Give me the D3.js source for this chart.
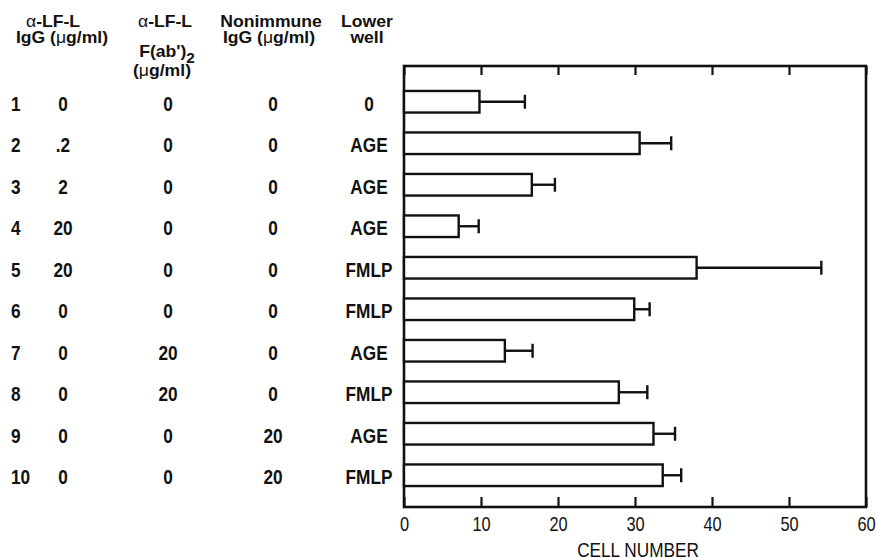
<!DOCTYPE html>
<html>
<head>
<meta charset="utf-8">
<script src="https://cdn.jsdelivr.net/npm/d3@7"></script>
<style>
  body { margin: 0; background: #fff; }
  svg text { fill: #111; }
  .hdr { font-family: "Liberation Sans", Arial, sans-serif; font-weight: bold; font-size: 16px; }
  .greek { font-weight: normal; }
  .row { font-family: "Liberation Sans", Arial, sans-serif; font-weight: bold; font-size: 21px; }
  .tick text { font-family: "Liberation Sans", Arial, sans-serif; font-size: 20px; fill: #111; }
  .xtitle { font-family: "Liberation Sans", Arial, sans-serif; font-size: 21px; }
</style>
</head>
<body>
<div id="chart"></div>
<script>
// table columns, one entry per row
var rowIds    = ["1", "2", "3", "4", "5", "6", "7", "8", "9", "10"];
var igg       = ["0", ".2", "2", "20", "20", "0", "0", "0", "0", "0"];
var fab       = ["0", "0", "0", "0", "0", "0", "20", "20", "0", "0"];
var nonimmune = ["0", "0", "0", "0", "0", "0", "0", "0", "20", "20"];
var lowerWell = ["0", "AGE", "AGE", "AGE", "FMLP", "FMLP", "AGE", "FMLP", "AGE", "FMLP"];

// bar values (cell number) and upper error ends
var cellNumber = [9.8, 30.6, 16.6, 7.1, 38.0, 29.9, 13.1, 27.9, 32.4, 33.6];
var errorTop   = [15.7, 34.7, 19.6, 9.7, 54.2, 31.9, 16.7, 31.6, 35.2, 36.0];

var xTicks = [0, 10, 20, 30, 40, 50, 60];

var width = 876, height = 558;
var narrow = 0.82;   // the original type is a condensed face

var svg = d3.select("#chart").append("svg")
    .attr("width", width)
    .attr("height", height);

var x = d3.scaleLinear().domain([0, 60]).range([404, 866]);
var y = d3.scaleBand().domain(rowIds).range([81, 496]);
var frameTop = 66, frameBottom = 507;

// 
// header
// 
var hdr = svg.append("g").attr("class", "hdr").attr("text-anchor", "middle");

function hline(cx, cy, parts) {
    var t = hdr.append("text")
        .attr("transform", "translate(" + cx + "," + cy + ") scale(1.1,1)");
    parts.forEach(function(p) {
        var s = t.append("tspan").text(p[0]);
        if (p[1] == "g") s.attr("class", "greek");
        if (p[1] == "sub") s.attr("dy", 6).attr("font-size", 14);
    });
}

hline(53, 27, [["α", "g"], ["-LF-L"]]);
hline(62, 43, [["IgG ("], ["μ", "g"], ["g/ml)"]]);
hline(165, 27, [["α", "g"], ["-LF-L"]]);
hline(167, 57, [["F(ab')"], ["2", "sub"]]);
hline(162, 76, [["("], ["μ", "g"], ["g/ml)"]]);
hline(271, 27, [["Nonimmune"]]);
hline(269, 43, [["IgG ("], ["μ", "g"], ["g/ml)"]]);
hline(367, 27, [["Lower"]]);
hline(367, 43, [["well"]]);

// 
// table rows
// 
var cols = [
    { data: rowIds, x: 11, anchor: "start" },
    { data: igg, x: 63, anchor: "middle" },
    { data: fab, x: 168, anchor: "middle" },
    { data: nonimmune, x: 273, anchor: "middle" },
    { data: lowerWell, x: 369, anchor: "middle" }
];

cols.forEach(function(c) {
    svg.append("g").selectAll("text")
        .data(c.data)
        .enter().append("text")
        .attr("class", "row")
        .attr("text-anchor", c.anchor)
        .attr("transform", function(d, i) {
            var ty = y(rowIds[i]) + y.bandwidth() / 2 + 9;
            return "translate(" + c.x + "," + ty + ") scale(" + narrow + ",1)";
        })
        .text(function(d) { return d; });
});

// 
// plot frame and axes
// 
var xAxis = d3.axisBottom(x)
    .tickValues(xTicks)
    .tickSize(-10)
    .tickPadding(10);

svg.append("g")
    .attr("transform", "translate(0," + frameBottom + ")")
    .call(xAxis)
    .call(function(g) { g.select(".domain").remove(); })
    .call(function(g) { g.selectAll(".tick line").attr("stroke", "#111").attr("stroke-width", 2.2); })
    .call(function(g) { g.selectAll(".tick text").attr("transform", "scale(" + narrow + ",1)"); });

svg.append("g")
    .attr("transform", "translate(0," + frameTop + ")")
    .call(d3.axisTop(x).tickValues(xTicks).tickSize(-9).tickFormat(""))
    .call(function(g) { g.select(".domain").remove(); })
    .call(function(g) { g.selectAll(".tick line").attr("stroke", "#111").attr("stroke-width", 2.2); });

svg.append("rect")
    .attr("x", x(0))
    .attr("y", frameTop)
    .attr("width", x(60) - x(0))
    .attr("height", frameBottom - frameTop)
    .attr("fill", "none")
    .attr("stroke", "#111")
    .attr("stroke-width", 2.6);

svg.append("text")
    .attr("class", "xtitle")
    .attr("text-anchor", "middle")
    .attr("transform", "translate(638,557) scale(" + narrow + ",1)")
    .text("CELL NUMBER");

// 
// bars with error bars
// 
var barH = y.bandwidth() * 0.52;

var rows = svg.append("g").selectAll("g")
    .data(rowIds)
    .enter().append("g");

rows.append("line")
    .attr("x1", function(d, i) { return x(cellNumber[i]); })
    .attr("x2", function(d, i) { return x(errorTop[i]); })
    .attr("y1", function(d) { return y(d) + y.bandwidth() / 2; })
    .attr("y2", function(d) { return y(d) + y.bandwidth() / 2; })
    .attr("stroke", "#111")
    .attr("stroke-width", 2.4);

rows.append("line")
    .attr("x1", function(d, i) { return x(errorTop[i]); })
    .attr("x2", function(d, i) { return x(errorTop[i]); })
    .attr("y1", function(d) { return y(d) + y.bandwidth() / 2 - 7; })
    .attr("y2", function(d) { return y(d) + y.bandwidth() / 2 + 7; })
    .attr("stroke", "#111")
    .attr("stroke-width", 2.4);

rows.append("rect")
    .attr("x", x(0))
    .attr("y", function(d) { return y(d) + (y.bandwidth() - barH) / 2; })
    .attr("width", function(d, i) { return x(cellNumber[i]) - x(0); })
    .attr("height", barH)
    .attr("fill", "#fff")
    .attr("stroke", "#111")
    .attr("stroke-width", 2.4);
</script>
</body>
</html>
